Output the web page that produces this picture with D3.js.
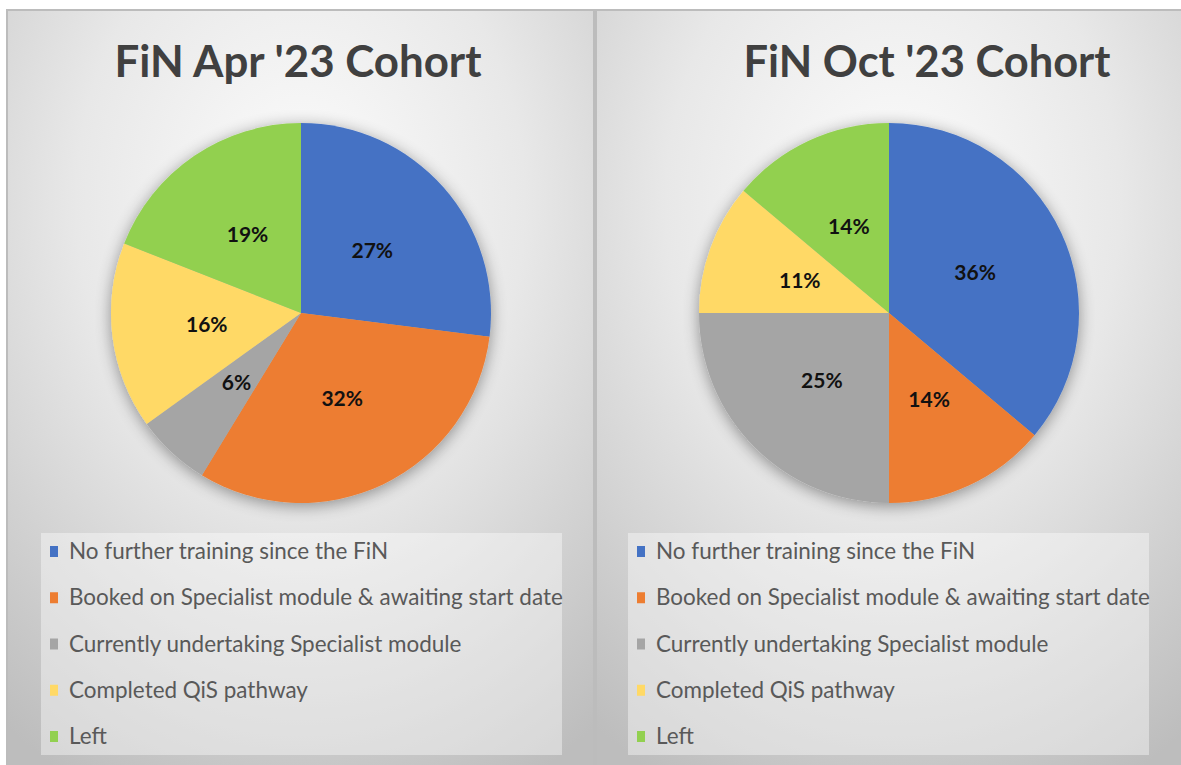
<!DOCTYPE html>
<html>
<head>
<meta charset="utf-8">
<script src="https://cdn.jsdelivr.net/npm/d3@7"></script>
<style>
  html, body { margin: 0; padding: 0; background: #ffffff; }
  svg { display: block; }
</style>
</head>
<body>
<svg id="chart" width="1181" height="765"></svg>
<script>
// ---- data ----
const categories = [
  "No further training since the FiN",
  "Booked on Specialist module & awaiting start date",
  "Currently undertaking Specialist module",
  "Completed QiS pathway",
  "Left"
];
const titles = ["FiN Apr '23 Cohort", "FiN Oct '23 Cohort"];
// estimated counts (consistent with the printed percentages and slice angles)
const aprValues = [17, 20, 4, 10, 12];
const octValues = [13, 5, 9, 4, 5];
const colors = ["#4472C4", "#ED7D31", "#A5A5A5", "#FFD966", "#92D050"];

const svg = d3.select("#chart");
const defs = svg.append("defs");

const grad = defs.append("radialGradient").attr("id", "bg")
  .attr("cx", "50%").attr("cy", "25%").attr("r", "85%")
  .attr("fx", "50%").attr("fy", "25%");
grad.append("stop").attr("offset", "0%").attr("stop-color", "#fcfcfc");
grad.append("stop").attr("offset", "45%").attr("stop-color", "#e8e8e8");
grad.append("stop").attr("offset", "100%").attr("stop-color", "#bdbdbd");

const shadow = defs.append("filter").attr("id", "shadow")
  .attr("x", "-20%").attr("y", "-20%").attr("width", "140%").attr("height", "140%");
shadow.append("feGaussianBlur").attr("in", "SourceAlpha").attr("stdDeviation", 8).attr("result", "b");
shadow.append("feOffset").attr("in", "b").attr("dx", 0).attr("dy", 3).attr("result", "o");
shadow.append("feComponentTransfer").attr("in", "o").attr("result", "s")
  .append("feFuncA").attr("type", "linear").attr("slope", 0.4);
const m = shadow.append("feMerge");
m.append("feMergeNode").attr("in", "s");
m.append("feMergeNode").attr("in", "SourceGraphic");

const panels = [
  { x0: 7, x1: 594, values: aprValues, title: titles[0], titleX: 298, cx: 301, legendX: 41 },
  { x0: 596, x1: 1190, values: octValues, title: titles[1], titleX: 927, cx: 889, legendX: 628 }
];

const cy = 313, R = 190;
const pie = d3.pie().sort(null).value(d => d);
const arc = d3.arc().innerRadius(0).outerRadius(R);

panels.forEach(p => {
  const g = svg.append("g");
  g.append("rect")
    .attr("x", p.x0).attr("y", 10)
    .attr("width", p.x1 - p.x0).attr("height", 765)
    .attr("fill", "url(#bg)")
    .attr("stroke", "#bcbcbc").attr("stroke-width", 2);

  // title
  const t = g.append("text")
    .attr("x", p.titleX).attr("y", 77)
    .attr("text-anchor", "middle")
    .attr("font-family", "Lato, 'Open Sans', sans-serif")
    .attr("font-weight", 700)
    .attr("font-size", 40)
    .attr("fill", "#404040")
    .text(p.title);
  const tw = t.node().getComputedTextLength();
  t.attr("font-size", 40 * 367 / tw);

  // pie
  const total = d3.sum(p.values);
  const arcs = pie(p.values);
  const pg = g.append("g").attr("transform", `translate(${p.cx},${cy})`);
  pg.append("g").attr("filter", "url(#shadow)")
    .selectAll("path").data(arcs).join("path")
    .attr("d", arc)
    .attr("fill", (d, i) => colors[i]);
  pg.selectAll("text").data(arcs).join("text")
    .attr("transform", d => `translate(${arc.centroid(d)})`)
    .attr("text-anchor", "middle")
    .attr("dy", "0.36em")
    .attr("font-family", "Lato, 'Open Sans', sans-serif")
    .attr("font-weight", 700)
    .attr("font-size", 21)
    .attr("fill", "#111111")
    .text(d => Math.round(d.data / total * 100) + "%");

  // legend
  const lg = g.append("g");
  lg.append("rect")
    .attr("x", p.legendX).attr("y", 533)
    .attr("width", 521).attr("height", 222)
    .attr("fill", "#ffffff").attr("fill-opacity", 0.4);
  const rowY = d3.scalePoint().domain(categories).range([551, 736]);
  const items = lg.selectAll("g.item").data(categories).join("g")
    .attr("class", "item")
    .attr("transform", d => `translate(${p.legendX}, ${rowY(d)})`);
  items.append("rect")
    .attr("x", 9).attr("y", -5).attr("width", 8).attr("height", 11)
    .attr("fill", (d, i) => colors[i]);
  const texts = items.append("text")
    .attr("x", 28).attr("dy", "0.36em")
    .attr("font-family", "Lato, 'Open Sans', sans-serif")
    .attr("font-size", 19)
    .attr("fill", "#595959")
    .text(d => d);
  const longest = d3.max(texts.nodes(), n => n.getComputedTextLength());
  texts.attr("font-size", 19 * 494 / longest);
});
</script>
</body>
</html>
